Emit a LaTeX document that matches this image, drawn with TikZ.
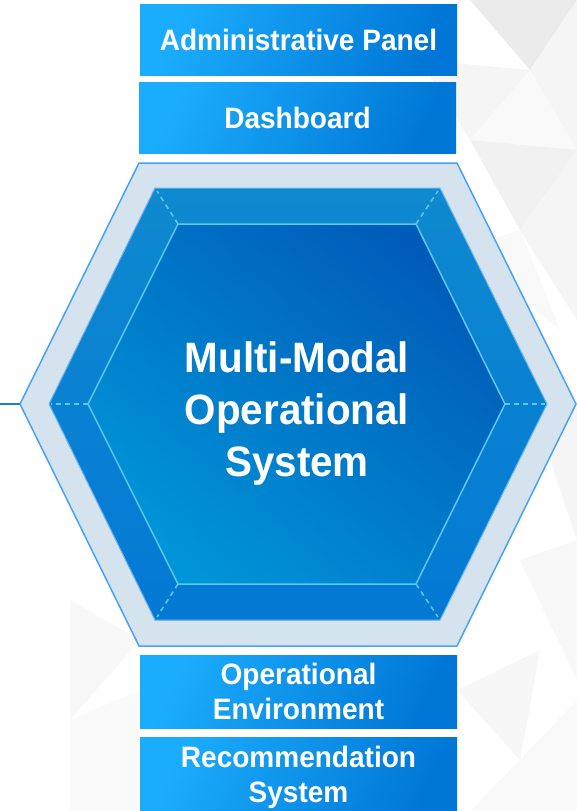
\documentclass[tikz,border=0pt]{standalone}
\usepackage{fontspec}
\setmainfont{Liberation Sans}[FakeStretch=0.95]
\definecolor{panelA}{HTML}{1BADFD}
\definecolor{panelB}{HTML}{0077D6}
\definecolor{shellfill}{HTML}{D4E3EE}
\definecolor{shellline}{HTML}{4AA2F2}
\definecolor{bandA}{HTML}{0F89CF}
\definecolor{bandB}{HTML}{0479D4}
\definecolor{coreA}{HTML}{005CB8}
\definecolor{coreB}{HTML}{0094D8}
\definecolor{coreline}{HTML}{5CC9F2}
\definecolor{stemblue}{HTML}{1B7ED5}
\definecolor{bgtriA}{HTML}{EBEBEB}
\definecolor{bgtriB}{HTML}{F5F5F5}
\begin{document}
\begin{tikzpicture}[x=1pt,y=-1pt,
 panel/.style={minimum width=317pt,minimum height=71pt,inner sep=0pt,align=center,text=white,
  font=\bfseries\fontsize{29.5}{35}\selectfont,top color=panelA,bottom color=panelB,shading angle=65},
 shell/.style={fill=shellfill,draw=shellline,line width=1.5pt},
 band/.style={top color=bandA,bottom color=bandB,draw=shellline!80,line width=1pt},
 core/.style={top color=coreA,bottom color=coreB,shading angle=-40,draw=coreline,line width=1.5pt},
 corner/.style={draw=coreline,line width=1.5pt,dash pattern=on 5pt off 4pt},
 core text/.style={align=center,text=white,font=\bfseries\fontsize{42.5}{52}\selectfont},
 stem/.style={draw=stemblue,line width=2pt}]
\useasboundingbox[fill=white] (0,0) rectangle (577,811);
% background facets
\fill[bgtriA] (470,0)--(577,0)--(530,70); 
\fill[bgtriB] (530,70)--(577,0)--(577,150); 
\fill[bgtriB] (420,60)--(530,70)--(470,140); 
\fill[bgtriB!60!white] (470,140)--(530,70)--(577,150); 
\fill[bgtriA!70!white] (470,140)--(577,150)--(520,230); 
\fill[bgtriB] (520,230)--(577,150)--(577,320); 
\fill[bgtriB!60!white] (460,250)--(520,230)--(560,330); 
\fill[bgtriB] (540,430)--(577,400)--(577,540); 
\fill[bgtriB!70!white] (520,560)--(577,540)--(577,680); 
\fill[bgtriB!70!white] (70,600)--(140,640)--(70,720); 
\fill[bgtriB!50!white] (70,720)--(140,690)--(140,811)--(70,811); 
\fill[bgtriB!80!white] (457,690)--(540,650)--(520,760); 
\fill[bgtriB!60!white] (520,760)--(577,700)--(577,811)--(470,811); 
% hexagon layers
\filldraw[shell](139,163)--(457,163)--(576,404)--(457,646)--(139,646)--(20,404)--cycle; 
\filldraw[band](155,188)--(440,188)--(547,404)--(440,620)--(155,620)--(49,404)--cycle; 
\filldraw[core](178,224)--(416,224)--(505,404)--(416,584)--(178,584)--(88,404)--cycle; 
\draw[corner](178,224)--(157,191); 
\draw[corner](416,224)--(438,191); 
\draw[corner](505,404)--(545,404); 
\draw[corner](416,584)--(438,617); 
\draw[corner](178,584)--(157,617); 
\draw[corner](88,404)--(51,404); 
\node[core text] (mmos) at (297,414) {Multi-Modal\\Operational\\System};
% stem on the left
\coordinate (shellW) at (20,404);
\coordinate (stemEnd) at (0,404);
\draw[stem] (stemEnd)--(shellW);
% panels
\node[panel] (admin) at (298.5,39.5) {Administrative Panel};
\node[panel] (dash) at (297.5,117.5) {Dashboard};
\node[panel,minimum height=73pt] (openv) at (298.5,691.5) {Operational\\Environment};
\node[panel,minimum height=80pt] (recsys) at (298.5,777.8) {Recommendation\\System};
\end{tikzpicture}
\end{document}
